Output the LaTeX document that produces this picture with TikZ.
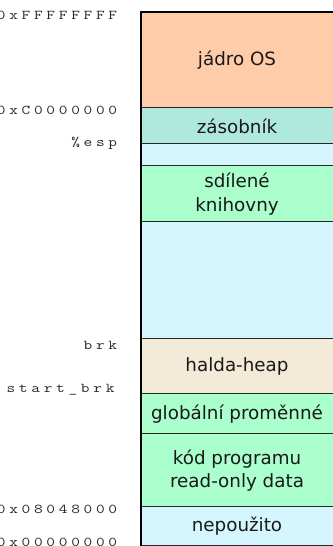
\documentclass[tikz,border=0pt]{standalone}
\usepackage{fontspec}
\setmainfont{DejaVu Sans}
\usetikzlibrary{calc}

\definecolor{osC}{RGB}{255,204,170}
\definecolor{stackC}{RGB}{175,233,221}
\definecolor{freeC}{RGB}{213,246,255}
\definecolor{libC}{RGB}{170,255,204}
\definecolor{heapC}{RGB}{243,235,215}

%% spread the characters of an address, one fixed box per character
\newcommand\spreadaddr[1]{\spreadloop#1\relax}
\def\spreadloop#1{\ifx#1\relax\else\makebox[12.4pt]{\scalebox{1.25}[1]{#1}}\expandafter\spreadloop\fi}

\begin{document}
\begin{tikzpicture}[x=1pt,y=-1pt,
  seg/.style={draw=black!85,line width=1.2pt},
  segtext/.style={font=\fontsize{18.3}{23.5}\selectfont,align=center,text=black!90},
  addr/.style={anchor=base east,inner sep=0pt,text=black!85,
    font=\ttfamily\fontsize{13.5}{14}\selectfont}]
  \useasboundingbox (0,0) rectangle (332,546);

  %% Boundaries of the memory segments
  \foreach \y [count=\i] in {12,108,144,166,222,339,394,434,507,546}
  {
    \coordinate (L\i) at (141,\y);
    \coordinate (R\i) at (333,\y);
  }

  %% Filling the segments
  \foreach \i/\c in {1/osC,2/stackC,3/freeC,4/libC,5/freeC,6/heapC,7/libC,8/libC,9/freeC}
  {
    \pgfmathtruncatemacro\j{\i+1}
    \fill[\c] (L\i) rectangle (R\j);
    \draw[seg] (L\j) -- (R\j);
  }
  \draw[line width=2pt] (L10) -- (L1) -- (R1);

  %% Segment names
  \node[segtext] (os)    at ($(L1)!0.5!(R2)$) {jádro OS};
  \node[segtext] (stack) at ($(L2)!0.5!(R3)$) {zásobník};
  \node[segtext] (libs)  at ($(L4)!0.5!(R5)$) {sdílené\\knihovny};
  \node[segtext] (heap)  at ($(L6)!0.5!(R7)$) {halda-heap};
  \node[segtext] (glob)  at ($(L7)!0.5!(R8)$) {globální proměnné};
  \node[segtext] (code)  at ($(L8)!0.5!(R9)$) {kód programu\\read-only data};
  \node[segtext] (free)  at ($(L9)!0.5!(R10)$) {nepoužito};

  %% Addresses on the left
  \node[addr] (top)   at (119.2,19.3)  {\spreadaddr{0xFFFFFFFF}};
  \node[addr] (kern)  at (119.2,114.3) {\spreadaddr{0xC0000000}};
  \node[addr] (esp)   at (119.2,146.5) {\spreadaddr{\%esp}};
  \node[addr] (brk)   at (119.2,349.5) {\spreadaddr{brk}};
  \node[addr] (sbrk)  at (116.5,392.5) {\spreadaddr{start\_brk}};
  \node[addr] (text)  at (119.2,513)   {\spreadaddr{0x08048000}};
  \node[addr] (zero)  at (119.2,546.5) {\spreadaddr{0x00000000}};
\end{tikzpicture}
\end{document}
